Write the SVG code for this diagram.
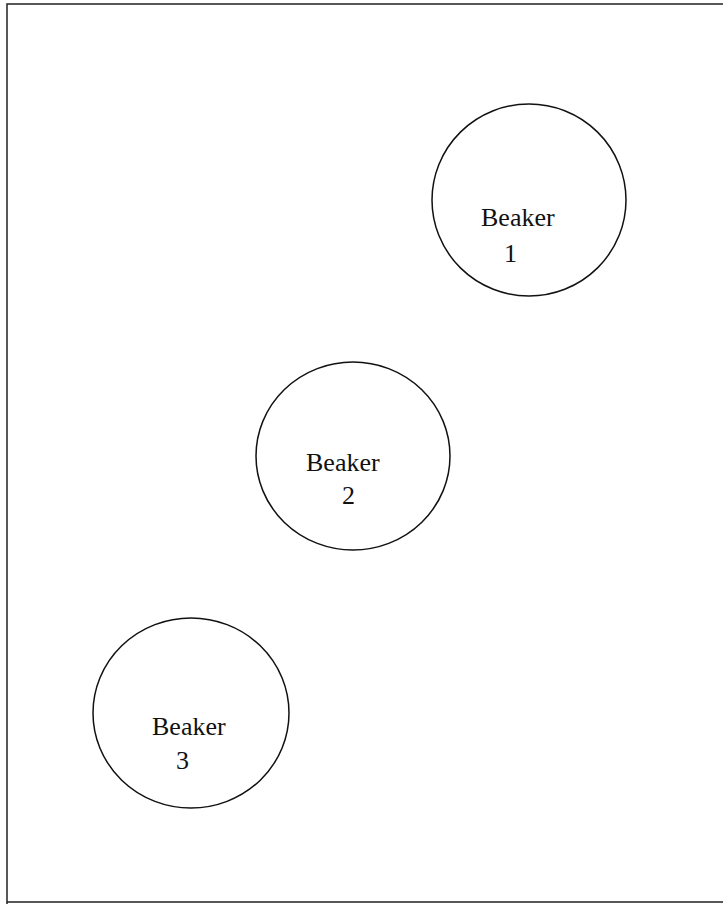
<svg xmlns="http://www.w3.org/2000/svg" width="723" height="906" viewBox="0 0 723 906">
<style>
.frame{fill:none;stroke:#222;stroke-width:1.5}
.beaker{fill:none;stroke:#111;stroke-width:1.5}
.lbl{font-family:"Liberation Serif","Times New Roman",serif;font-size:26px;fill:#111}
</style>
<rect width="723" height="906" fill="#fff"/>
<path class="frame" d="M7,904 L7,4 L723,4 M7,902 L723,902"/>
<g id="beaker1">
<ellipse class="beaker" cx="529" cy="200" rx="97" ry="96"/>
<text class="lbl" x="481" y="226">Beaker</text>
<text class="lbl" x="504" y="262">1</text>
</g>
<g id="beaker2">
<ellipse class="beaker" cx="353" cy="456" rx="97" ry="94"/>
<text class="lbl" x="306" y="471">Beaker</text>
<text class="lbl" x="342" y="504">2</text>
</g>
<g id="beaker3">
<ellipse class="beaker" cx="191" cy="713" rx="98" ry="95"/>
<text class="lbl" x="152" y="735">Beaker</text>
<text class="lbl" x="176" y="769">3</text>
</g>
<g id="connectors"></g>
</svg>
